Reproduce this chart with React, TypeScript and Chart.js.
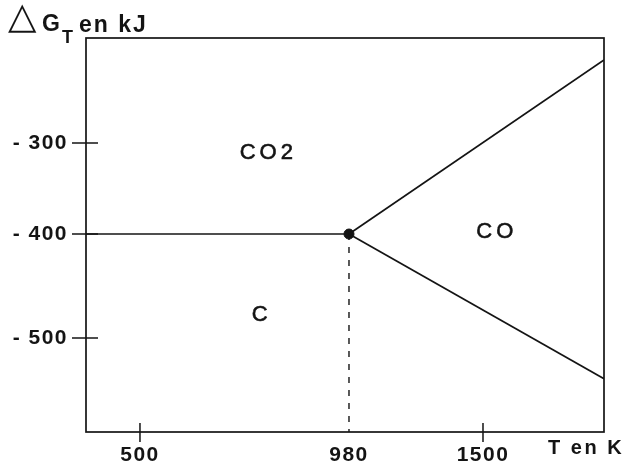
import React, { useEffect, useRef } from 'react';
import { Chart, registerables, LinearScale } from 'chart.js';

// ---------- data ----------
const xTickValues = [500, 980, 1500];
const xTickLabels = ['500', '980', '1500'];
const xTickMarks = [500, 1500];
const yTickValues = [-300, -400, -500];
const yTickLabels = ['- 300', '- 400', '- 500'];

const co2LineT = [380, 980];
const co2LineG = [-400, -400];
const upperLineT = [980, 1960];
const upperLineG = [-400, -213];
const lowerLineT = [980, 1960];
const lowerLineG = [-400, -539];
const dashLineT = [980, 980];
const dashLineG = [-400, -590];
const pointT = [980];
const pointG = [-400];

const regionNames = ['CO2', 'CO', 'C'];
const regionT = [790, 1545, 775];
const regionG = [-311, -398, -478];

// ---------- schematic (non-uniform) axis mapping: [value, fraction of axis] ----------
const X_KNOTS = [[380, 0], [500, 0.1042], [980, 0.5077], [1500, 0.7664], [1960, 1]];
const Y_KNOTS = [[-590, 0], [-500, 0.2386], [-400, 0.5025], [-300, 0.7335], [-190, 1]];

function interp(knots: number[][], v: number, a: number, b: number) {
  const n = knots.length;
  let i = 0;
  while (i < n - 2 && v > knots[i + 1][a]) i++;
  const p = knots[i];
  const q = knots[i + 1];
  return p[b] + ((v - p[a]) * (q[b] - p[b])) / (q[a] - p[a]);
}

class PiecewiseScale extends LinearScale {
  static id = 'piecewise';
  static defaults = (LinearScale as any).defaults;
  knots() {
    return (this as any).axis === 'x' ? X_KNOTS : Y_KNOTS;
  }
  getPixelForValue(value: number) {
    return this.getPixelForDecimal(interp(this.knots(), value, 0, 1));
  }
  getValueForPixel(pixel: number) {
    return interp(this.knots(), this.getDecimalForPixel(pixel), 1, 0);
  }
}

Chart.register(...registerables, PiecewiseScale as any);

const INK = '#141414';
const FONT = '"Liberation Sans", Arial, sans-serif';

const pts = (t: number[], g: number[]) => t.map((x, i) => ({ x, y: g[i] }));

const decorPlugin = {
  id: 'decor',
  beforeDraw(chart: any) {
    (chart.ctx as any).letterSpacing = '1.5px';
  },
  afterDraw(chart: any) {
    const ctx = chart.ctx as CanvasRenderingContext2D & { letterSpacing: string };
    const { left, right, top, bottom } = chart.chartArea;
    const xs = chart.scales.x;
    const ys = chart.scales.y;
    ctx.save();
    ctx.letterSpacing = '0px';
    // frame
    ctx.strokeStyle = INK;
    ctx.lineWidth = 1.7;
    ctx.strokeRect(left, top, right - left, bottom - top);
    // tick marks
    ctx.lineWidth = 1.5;
    ctx.beginPath();
    yTickValues.forEach((v) => {
      const y = ys.getPixelForValue(v);
      ctx.moveTo(left - 14, y);
      ctx.lineTo(left + 12, y);
    });
    xTickMarks.forEach((v) => {
      const x = xs.getPixelForValue(v);
      ctx.moveTo(x, bottom - 9);
      ctx.lineTo(x, bottom + 10);
    });
    ctx.stroke();

    ctx.fillStyle = INK;
    ctx.textAlign = 'left';
    ctx.textBaseline = 'alphabetic';
    // y-axis title
    ctx.font = '37px "DejaVu Sans"';
    ctx.fillText('△', 8, 28);
    ctx.font = `bold 23px ${FONT}`;
    ctx.fillText('G', 42, 31);
    ctx.font = `bold 18px ${FONT}`;
    ctx.fillText('T', 62, 43);
    ctx.letterSpacing = '2px';
    ctx.font = `bold 23px ${FONT}`;
    ctx.fillText('en kJ', 79, 32);
    // x-axis title
    ctx.letterSpacing = '2.5px';
    ctx.font = `bold 20px ${FONT}`;
    ctx.fillText('T en K', 548, 454);

    // region labels
    ctx.font = `22px ${FONT}`;
    ctx.letterSpacing = '4px';
    ctx.textAlign = 'center';
    ctx.textBaseline = 'middle';
    ctx.lineWidth = 0.6;
    regionNames.forEach((name, i) => {
      const x = xs.getPixelForValue(regionT[i]) + 2;
      const y = ys.getPixelForValue(regionG[i]);
      ctx.fillText(name, x, y);
      ctx.strokeText(name, x, y);
    });
    ctx.restore();
    ctx.letterSpacing = '0px';
  },
};

export default function App() {
  const ref = useRef<HTMLCanvasElement>(null);
  useEffect(() => {
    document.body.style.margin = '0';
    const line = { borderColor: INK, borderWidth: 1.7, pointRadius: 0, fill: false, tension: 0 };
    const chart = new Chart(ref.current!, {
      type: 'line',
      data: {
        datasets: [
          { ...line, data: pts(co2LineT, co2LineG) },
          { ...line, data: pts(upperLineT, upperLineG) },
          { ...line, data: pts(lowerLineT, lowerLineG) },
          { ...line, borderWidth: 1.4, borderDash: [6, 7], data: pts(dashLineT, dashLineG) },
          {
            type: 'scatter',
            data: pts(pointT, pointG),
            pointRadius: 5,
            backgroundColor: INK,
            borderColor: INK,
          } as any,
        ],
      },
      options: {
        animation: false,
        responsive: false,
        events: [],
        layout: { padding: { top: 38, right: 25, left: 0, bottom: 0 } },
        plugins: { legend: { display: false }, tooltip: { enabled: false } },
        scales: {
          x: {
            type: 'piecewise' as any,
            min: 380,
            max: 1960,
            afterFit: (s: any) => {
              s.height = 34;
            },
            afterBuildTicks: (s: any) => {
              s.ticks = xTickValues.map((v) => ({ value: v }));
            },
            grid: { display: false, drawTicks: false },
            border: { display: false },
            ticks: {
              autoSkip: false,
              maxRotation: 0,
              padding: 11,
              color: INK,
              font: { family: FONT, weight: 'bold', size: 21 },
              callback: (_v: any, i: number) => xTickLabels[i],
            },
          },
          y: {
            type: 'piecewise' as any,
            min: -590,
            max: -190,
            afterFit: (s: any) => {
              s.width = 86;
            },
            afterBuildTicks: (s: any) => {
              s.ticks = yTickValues.map((v) => ({ value: v }));
            },
            grid: { display: false, drawTicks: false },
            border: { display: false },
            ticks: {
              autoSkip: false,
              padding: 18,
              color: INK,
              font: { family: FONT, weight: 'bold', size: 21 },
              callback: (_v: any, i: number) => yTickLabels[i],
            },
          },
        } as any,
      },
      plugins: [decorPlugin],
    });
    return () => chart.destroy();
  }, []);
  return (
    <div style={{ position: 'absolute', left: 0, top: 0, width: 629, height: 466, background: '#fff' }}>
      <canvas ref={ref} width={629} height={466} />
    </div>
  );
}
